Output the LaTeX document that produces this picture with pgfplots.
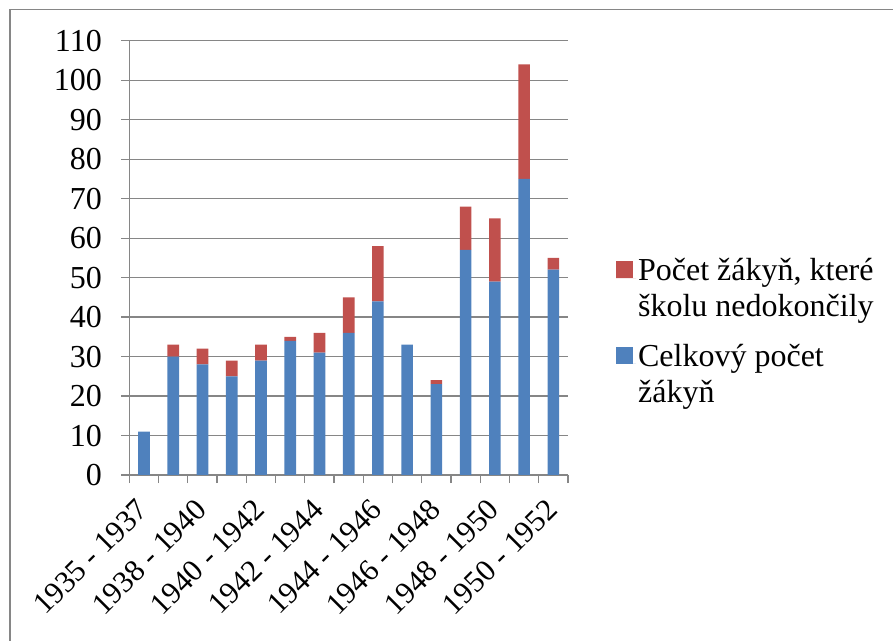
\documentclass[border=0pt]{standalone}
\usepackage{fontspec}
\setmainfont{Liberation Serif}
\usepackage{pgfplots}
\pgfplotsset{compat=1.18}
\definecolor{exblue}{HTML}{4F81BD}
\definecolor{exred}{HTML}{C0504D}
\definecolor{exgray}{HTML}{868686}
\newcommand{\bigf}{\fontsize{32bp}{36bp}\selectfont}
\newcommand{\xf}{\fontsize{30.5bp}{35bp}\selectfont}
\begin{document}
\begin{tikzpicture}
\begin{axis}[
  at={(129.3bp,166bp)}, anchor=south west,
  scale only axis, width=438.7bp, height=434.3bp,
  ybar stacked, bar width=11.7bp,
  xmin=-0.5, xmax=14.5, ymin=0, ymax=110,
  axis x line=bottom, axis y line=left,
  axis line style={-, draw=exgray, line width=1.2bp},
  tick align=outside, major tick length=8bp,
  tick style={draw=exgray, line width=1.2bp},
  ymajorgrids, grid style={draw=exgray, line width=1.2bp},
  ytick={0,10,...,110},
  xtick={-0.5,0.5,...,14.5},
  xticklabels={,,,,,,,,,,,,,,,,},
  extra x ticks={0,2,4,6,8,10,12,14},
  extra x tick labels={1935 - 1937,1938 - 1940,1940 - 1942,1942 - 1944,1944 - 1946,1946 - 1948,1948 - 1950,1950 - 1952},
  extra x tick style={major tick length=0pt, tick style={draw=none}, grid=none},
  /pgf/number format/assume math mode=true,
  yticklabel style={font=\bigf, xshift=-16bp},
  xticklabel style={font=\xf, xshift=-8.5bp, yshift=-17.5bp, rotate=45, anchor=north east},
  legend image code/.code={\fill[#1] (0bp,10bp) rectangle (17bp,27bp); \path (0bp,10bp) -- (20bp,10bp);},
  reverse legend,
  legend style={draw=none, fill=none, font=\bigf, at={(axis description cs:1.1025,0.5086)}, anchor=north west,
    cells={anchor=west, align=left}, row sep=22bp},
]
\addplot[fill=exblue, draw=none] coordinates {(0,11) (1,30) (2,28) (3,25) (4,29) (5,34) (6,31) (7,36) (8,44) (9,33) (10,23) (11,57) (12,49) (13,75) (14,52)};
\addlegendentry{Celkový počet\\žákyň}
\addplot[fill=exred, draw=none] coordinates {(0,0) (1,3) (2,4) (3,4) (4,4) (5,1) (6,5) (7,9) (8,14) (9,0) (10,1) (11,11) (12,16) (13,29) (14,3)};
\addlegendentry{Počet žákyň, které\\školu nedokončily}
\end{axis}
\draw[exgray, line width=1.2bp] (10bp,-5bp) -- (10bp,631.5bp) -- (900bp,631.5bp);
\pgfresetboundingbox
\path[use as bounding box] (0,0) rectangle (893bp,641bp);
\end{tikzpicture}
\end{document}
